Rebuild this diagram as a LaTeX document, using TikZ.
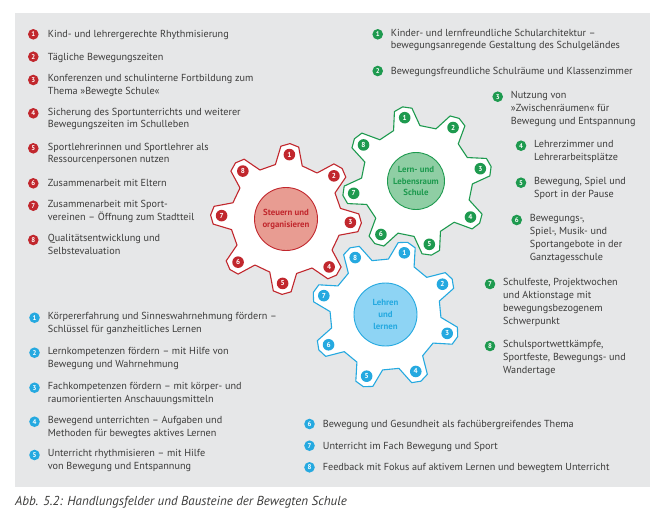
\documentclass[tikz,border=0pt]{standalone}
\usepackage{fontspec}
\setmainfont{PT Sans}

\definecolor{stRed}{HTML}{C1272D}
\definecolor{stRedLight}{HTML}{E89C92}
\definecolor{stGreen}{HTML}{1E9A4F}
\definecolor{stGreenLight}{HTML}{8FCEA4}
\definecolor{stBlue}{HTML}{25A9E0}
\definecolor{stBlueLight}{HTML}{8ED4F4}
\definecolor{panelGray}{HTML}{E6E7E8}
\definecolor{textGray}{HTML}{3C3C3B}

\begin{document}
\begin{tikzpicture}
[x=1pt,y=-1pt,
  gearDecorate/.style={draw=#1,fill=white,line width=1.1pt,line join=round},
  markDecorate/.style={shape=circle,fill=#1,text=white,inner sep=0pt,minimum size=10.6pt,
    font=\bfseries\fontsize{6.8}{7}\selectfont},
  hubDecorate/.style 2 args={shape=circle,draw=#1,fill=#2,text=#1,line width=0.9pt,
    align=center,inner sep=0pt,font=\bfseries\fontsize{8.8}{11.8}\selectfont},
  itemDecorate/.style={anchor=north west,align=left,inner sep=0pt,text=textGray,
    font=\fontsize{10.2}{12.8}\selectfont,execute at begin node=\strut}]
\useasboundingbox (0,0) rectangle (666,525);
\fill[panelGray] (15,13) rectangle (649.5,487);
%% gears
\foreach \gname/\cx/\cy/\rot/\col in {red/286/219/-3/stRed, green/417/181/11/stGreen, blue/385.5/314.5/-17/stBlue}
{
  \begin{scope}[shift={(\cx,\cy)}]
    \draw[gearDecorate=\col] ({90+\rot+14}:55.5pt)
    \foreach \k [evaluate=\k as \a using 90+\rot-45*(\k-1)] in {1,...,8}
    {
      -- ({\a+14}:55.5pt) -- ({\a+7}:73pt) -- (\a:75.5pt) -- ({\a-7}:73pt) -- ({\a-14}:55.5pt)
    } -- cycle;
    \foreach \k [evaluate=\k as \a using 90+\rot-45*(\k-1)] in {1,...,8}
    {
      \node (\gname\k) at (\a:64.5pt) [markDecorate=\col, minimum size=11.6pt,
        font=\bfseries\fontsize{7.2}{8}\selectfont] {\k};
    }
  \end{scope}
}
\node (redHub) at (286,219) [hubDecorate={stRed}{stRedLight}, minimum size=63pt] {Steuern und\\organisieren};
\node (greenHub) at (416,181) [hubDecorate={stGreen}{stGreenLight}, minimum size=57pt] {Lern- und\\Lebensraum\\Schule};
\node (blueHub) at (385.5,314.5) [hubDecorate={stBlue}{stBlueLight}, minimum size=63pt] {Lehren\\und\\lernen};
%% red items
\foreach \id/\x/\y/\txt in {
  1/33.3/34.3/{Kind- und lehrergerechte Rhythmisierung},
  2/33.3/56.7/{Tägliche Bewegungszeiten},
  3/33.3/80/{Konferenzen und schulinterne Fortbildung zum\\Thema »Bewegte Schule«},
  4/33.3/113.3/{Sicherung des Sportunterrichts und weiterer\\Bewegungszeiten im Schulleben},
  5/33.3/148.3/{Sportlehrerinnen und Sportlehrer als\\Ressourcenpersonen nutzen},
  6/33.3/183.3/{Zusammenarbeit mit Eltern},
  7/33.3/205.7/{Zusammenarbeit mit Sport-\\vereinen – Öffnung zum Stadtteil},
  8/33.3/240/{Qualitätsentwicklung und\\Selbstevaluation}}
{
  \node (redMark\id) at (\x,\y) [markDecorate=stRed] {\id};
  \node (redItem\id) at ([xshift=14.4pt,yshift=5.7pt]redMark\id.center) [itemDecorate] {\txt};
}
%% green items
\foreach \id/\x/\y/\txt in {
  1/377.7/34.3/{Kinder- und lernfreundliche Schularchitektur –\\bewegungsanregende Gestaltung des Schulgeländes},
  2/377.7/71/{Bewegungsfreundliche Schulräume und Klassenzimmer},
  3/497.7/96.7/{Nutzung von\\»Zwischenräumen« für\\Bewegung und Entspannung},
  4/521/145.7/{Lehrerzimmer und\\Lehrerarbeitsplätze},
  5/521/182.7/{Bewegung, Spiel und\\Sport in der Pause},
  6/516.7/220/{Bewegungs-,\\Spiel-, Musik- und\\Sportangebote in der\\Ganztagesschule},
  7/490/284/{Schulfeste, Projektwochen\\und Aktionstage mit\\bewegungsbezogenem\\Schwerpunkt},
  8/490/346/{Schulsportwettkämpfe,\\Sportfeste, Bewegungs- und\\Wandertage}}
{
  \node (greenMark\id) at (\x,\y) [markDecorate=stGreen] {\id};
  \node (greenItem\id) at ([xshift=13pt,yshift=5.7pt]greenMark\id.center) [itemDecorate] {\txt};
}
%% blue items
\foreach \id/\x/\y/\txt in {
  1/34.5/317.7/{Körpererfahrung und Sinneswahrnehmung fördern –\\Schlüssel für ganzheitliches Lernen},
  2/34.5/352.7/{Lernkompetenzen fördern – mit Hilfe von\\Bewegung und Wahrnehmung},
  3/34.5/387.7/{Fachkompetenzen fördern – mit körper- und\\raumorientierten Anschauungsmitteln},
  4/34.5/421.7/{Bewegend unterrichten – Aufgaben und\\Methoden für bewegtes aktives Lernen},
  5/34.5/455/{Unterricht rhythmisieren – mit Hilfe\\von Bewegung und Entspannung},
  6/309.5/424/{Bewegung und Gesundheit als fachübergreifendes Thema},
  7/309.5/445.7/{Unterricht im Fach Bewegung und Sport},
  8/309.5/467.3/{Feedback mit Fokus auf aktivem Lernen und bewegtem Unterricht}}
{
  \node (blueMark\id) at (\x,\y) [markDecorate=stBlue] {\id};
  \node (blueItem\id) at ([xshift=13.2pt,yshift=5.7pt]blueMark\id.center) [itemDecorate] {\txt};
}
%% caption
\node (caption) at (15,505.5) [anchor=base west,inner sep=0pt,text=textGray,
  font=\itshape\fontsize{13}{15}\selectfont] {Abb. 5.2: Handlungsfelder und Bausteine der Bewegten Schule};
\end{tikzpicture}
\end{document}
